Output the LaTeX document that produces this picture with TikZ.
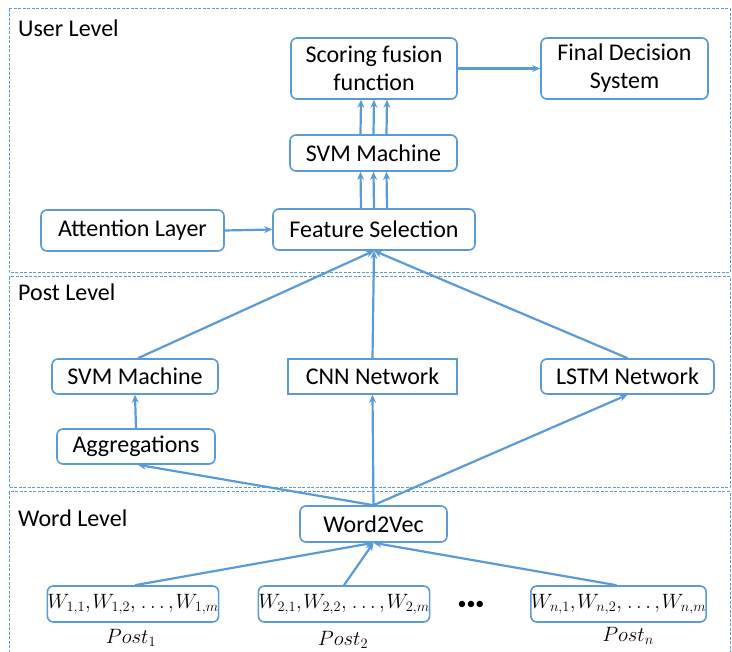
\documentclass[tikz,border=0pt]{standalone}
\usepackage{fontspec}
\setmainfont{Carlito}
\usetikzlibrary{arrows.meta}
\definecolor{bl}{HTML}{5B9BD5}
\newcommand{\cm}{\mathord{,}\mkern1.5mu}
\tikzset{
  box/.style={draw=bl, line width=1.6pt, rounded corners=6pt, align=center, inner sep=0pt, font=\fontsize{24}{28}\selectfont, text=black},
  sqbox/.style={box, rounded corners=0pt},
  arr/.style={draw=bl, line width=2.2pt, -{Stealth[length=8pt,width=7pt]}},
  lev/.style={anchor=base west, inner sep=0pt, font=\fontsize{24}{28}\selectfont},
  dsh/.style={draw=bl, line width=1pt, dash pattern=on 3pt off 1.5pt},
  wbox/.style={box, font=\fontsize{20.5}{24}\selectfont},
  mth/.style={inner sep=0pt, font=\fontsize{20}{24}\selectfont}
}
\begin{document}
\begin{tikzpicture}[x=1pt,y=-1pt]
\useasboundingbox (0,0) rectangle (732,652);
\begin{scope}
\clip (0,0) rectangle (732,652);
\draw[dsh] (9,9) rectangle (730,273);
\draw[dsh] (9,277) rectangle (730,488);
\draw[dsh] (9,492) rectangle (730,660);
\end{scope}
\node[lev] (ul) at (18,37) {User Level};
\node[lev] (pl) at (18,301) {Post Level};
\node[lev] (wl) at (18,527) {Word Level};

\node[box, minimum width=166pt, minimum height=61pt] (score) at (374,68.5) {Scoring fusion\\function};
\node[box, minimum width=167pt, minimum height=61pt] (final) at (624.5,68.5) {Final Decision\\System};
\node[box, minimum width=167pt, minimum height=36pt] (svmu) at (373.5,153) {SVM Machine};
\node[box, minimum width=183pt, minimum height=41pt] (att) at (132.5,230.5) {Attention Layer};
\node[box, minimum width=202pt, minimum height=41pt] (feat) at (374,229.5) {Feature Selection};
\node[box, minimum width=166pt, minimum height=35pt] (svmp) at (135,376.5) {SVM Machine};
\node[sqbox, minimum width=169pt, minimum height=35pt] (cnn) at (372.5,376.5) {CNN Network};
\node[box, minimum width=173pt, minimum height=35pt] (lstm) at (627.5,376.5) {LSTM Network};
\node[box, minimum width=158pt, minimum height=35pt] (agg) at (136,446.5) {Aggregations};
\node[box, minimum width=147pt, minimum height=36pt] (w2v) at (373.5,524) {Word2Vec};
\node[wbox, minimum width=158pt, minimum height=36pt] (w1) at (133,604) {$W_{1,1}\cm W_{1,2}\cm \ldots\cm W_{1,m}$};
\node[wbox, minimum width=158pt, minimum height=36pt] (w2) at (344,604) {$W_{2,1}\cm W_{2,2}\cm \ldots\cm W_{2,m}$};
\node[wbox, minimum width=159pt, minimum height=36pt] (wn) at (618.5,604) {$W_{n,1}\cm W_{n,2}\cm \ldots\cm W_{n,m}$};
\node[inner sep=0pt, font=\fontsize{18}{18}\selectfont] (ell) at (471,605) {•••};
\node[mth] (p1) at (131,638) {$Post_1$};
\node[mth] (p2) at (343,640) {$Post_2$};
\node[mth] (pn) at (628,636) {$Post_n$};

\foreach \s in {-13,0,13}{
  \draw[arr] ([xshift=\s pt]svmu.north) -- ([xshift=\s pt]score.south);
  \draw[arr] ([xshift=\s pt]feat.north) -- ([xshift=\s pt]svmu.south);
}
\draw[arr] (score.east) -- (final.west);
\draw[arr] (att.east) -- (feat.west);
\draw[arr] ([xshift=3pt]svmp.north) -- (feat.south);
\draw[arr] (cnn.north) -- (feat.south);
\draw[arr] (lstm.north) -- (feat.south);
\draw[arr] (agg.north) -- (svmp.south);
\draw[arr] (w2v.north) -- ([xshift=2pt]agg.south);
\draw[arr] (w2v.north) -- (cnn.south);
\draw[arr] (w2v.north) -- (lstm.south);
\draw[arr] ([xshift=2pt]w1.north) -- (w2v.south);
\draw[arr] (w2.north) -- (w2v.south);
\draw[arr] ([xshift=-2pt]wn.north) -- (w2v.south);
\end{tikzpicture}
\end{document}
